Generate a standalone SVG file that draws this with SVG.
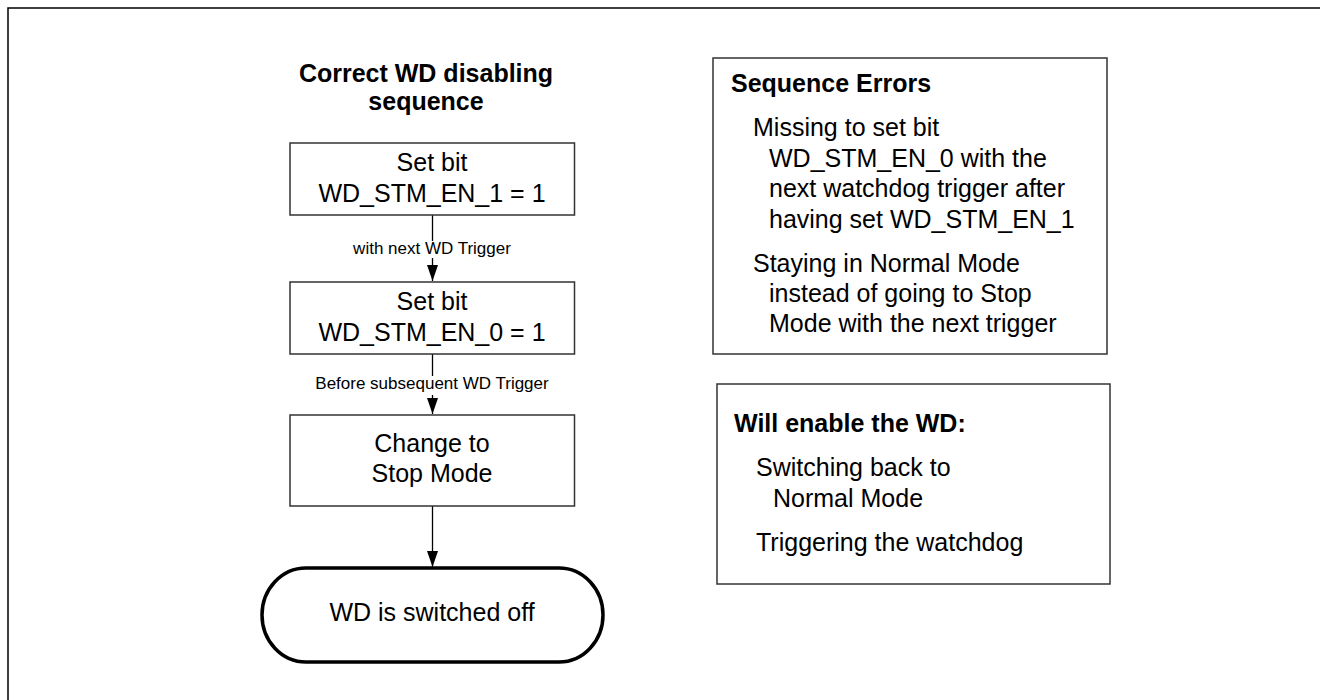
<svg xmlns="http://www.w3.org/2000/svg" width="1320" height="700" viewBox="0 0 1320 700">
<defs>
<style>
.t{font-family:"Liberation Sans",Arial,sans-serif;font-size:25px;fill:#000}
.b{font-weight:bold}
.c{text-anchor:middle}
.lbl{font-family:"Liberation Sans",Arial,sans-serif;font-size:17px;fill:#000;text-anchor:middle}
.box{fill:#fff;stroke:#333;stroke-width:1.5}
.conn{stroke:#000;stroke-width:1.3;fill:none}
</style>
<marker id="ah" markerUnits="userSpaceOnUse" markerWidth="16" markerHeight="11" refX="16" refY="5.5" orient="auto">
<path d="M0,0 L16,5.5 L0,11 z" fill="#000"/>
</marker>
</defs>
<rect x="0" y="0" width="1320" height="700" fill="#fff"/>
<rect id="frame" x="8" y="8" width="1400" height="800" fill="none" stroke="#000" stroke-width="1.5"/>
<text id="title" class="t b c"><tspan x="426" y="82">Correct WD disabling</tspan><tspan x="426" y="110">sequence</tspan></text>
<g id="connectors">
<line class="conn" x1="432.5" y1="215" x2="432.5" y2="281" marker-end="url(#ah)"/>
<rect x="350" y="241" width="165" height="17" fill="#fff"/>
<text class="lbl" x="432" y="254">with next WD Trigger</text>
<line class="conn" x1="432.5" y1="354" x2="432.5" y2="414" marker-end="url(#ah)"/>
<rect x="312" y="376" width="240" height="19" fill="#fff"/>
<text class="lbl" x="432" y="389">Before subsequent WD Trigger</text>
<line class="conn" x1="432.5" y1="506" x2="432.5" y2="567" marker-end="url(#ah)"/>
</g>
<g id="n1">
<rect class="box" x="290" y="143" width="284.5" height="72"/>
<text class="t c" x="432" y="171">Set bit</text>
<text class="t c" x="432" y="202">WD_STM_EN_1 = 1</text>
</g>
<g id="n2">
<rect class="box" x="290" y="282" width="284.5" height="72"/>
<text class="t c" x="432" y="310">Set bit</text>
<text class="t c" x="432" y="341">WD_STM_EN_0 = 1</text>
</g>
<g id="n3">
<rect class="box" x="290" y="415" width="284.5" height="91"/>
<text class="t c" x="432" y="452">Change to</text>
<text class="t c" x="432" y="482">Stop Mode</text>
</g>
<g id="n4">
<rect x="262" y="568" width="341" height="94" rx="44" ry="47" fill="#fff" stroke="#000" stroke-width="3.5"/>
<text class="t c" x="432" y="621">WD is switched off</text>
</g>
<g id="errors">
<rect class="box" x="713" y="58" width="394" height="296"/>
<text class="t b" x="731" y="92">Sequence Errors</text>
<text class="t" x="753" y="136">Missing to set bit</text>
<text class="t" x="769" y="167">WD_STM_EN_0 with the</text>
<text class="t" x="769" y="197">next watchdog trigger after</text>
<text class="t" x="769" y="228">having set WD_STM_EN_1</text>
<text class="t" x="753" y="272">Staying in Normal Mode</text>
<text class="t" x="769" y="302">instead of going to Stop</text>
<text class="t" x="769" y="332">Mode with the next trigger</text>
</g>
<g id="enable">
<rect class="box" x="717" y="384" width="393" height="200"/>
<text class="t b" x="734" y="432">Will enable the WD:</text>
<text class="t" x="756" y="476">Switching back to</text>
<text class="t" x="773" y="507">Normal Mode</text>
<text class="t" x="756" y="551">Triggering the watchdog</text>
</g>
</svg>
